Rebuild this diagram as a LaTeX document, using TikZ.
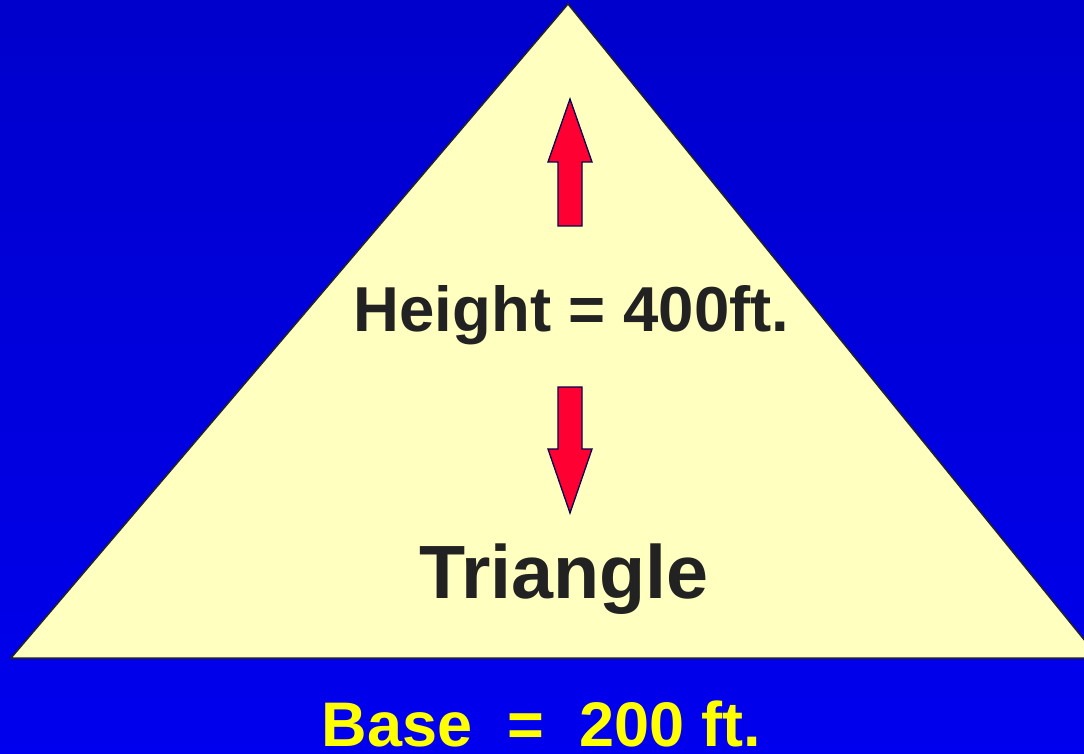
\documentclass[tikz,border=0pt]{standalone}
\usepackage{fontspec}
\setmainfont{Liberation Sans}
\definecolor{bgtop}{RGB}{0,0,204}
\definecolor{bgbot}{RGB}{0,0,238}
\definecolor{triyel}{RGB}{255,255,192}
\definecolor{txtdark}{RGB}{34,34,34}
\definecolor{arrred}{RGB}{255,0,51}
\definecolor{arrline}{RGB}{0,0,80}
\definecolor{baseyel}{RGB}{255,255,0}
\tikzset{
  redarrow/.style={fill=arrred, draw=arrline, line width=1.3pt, line join=miter},
  bigtext/.style={text=txtdark, font=\bfseries, inner sep=0pt, anchor=base},
}
\begin{document}
\begin{tikzpicture}[x=1pt,y=-1pt]
\useasboundingbox (0,0) rectangle (1084,754);
\shade[top color=bgtop, bottom color=bgbot] (0,0) rectangle (1084,754);
\clip (0,0) rectangle (1084,754);
\coordinate (apex) at (568,4);
\coordinate (bl) at (11,658);
\coordinate (br) at (1099,658);
\draw[fill=triyel, draw=txtdark, line width=1.5pt, line join=miter] (apex) -- (br) -- (bl) -- cycle;
% up arrow
\draw[redarrow] (570,99) -- (592,162) -- (582,162) -- (582,226) -- (558,226) -- (558,162) -- (548,162) -- cycle;
% down arrow
\draw[redarrow] (558,387) -- (582,387) -- (582,449) -- (592,449) -- (570,513) -- (548,449) -- (558,449) -- cycle;
\node[bigtext, font=\bfseries\fontsize{63.5}{76}\selectfont] (height) at (571.5,331) {Height = 400ft.};
\node[bigtext, font=\bfseries\fontsize{75.5}{90}\selectfont] (tri) at (564,598) {Triangle};
\node[bigtext, text=baseyel, font=\bfseries\fontsize{63}{75}\selectfont] (base) at (541.5,746) {Base\ \ =\ \ 200 ft.};
\end{tikzpicture}
\end{document}
